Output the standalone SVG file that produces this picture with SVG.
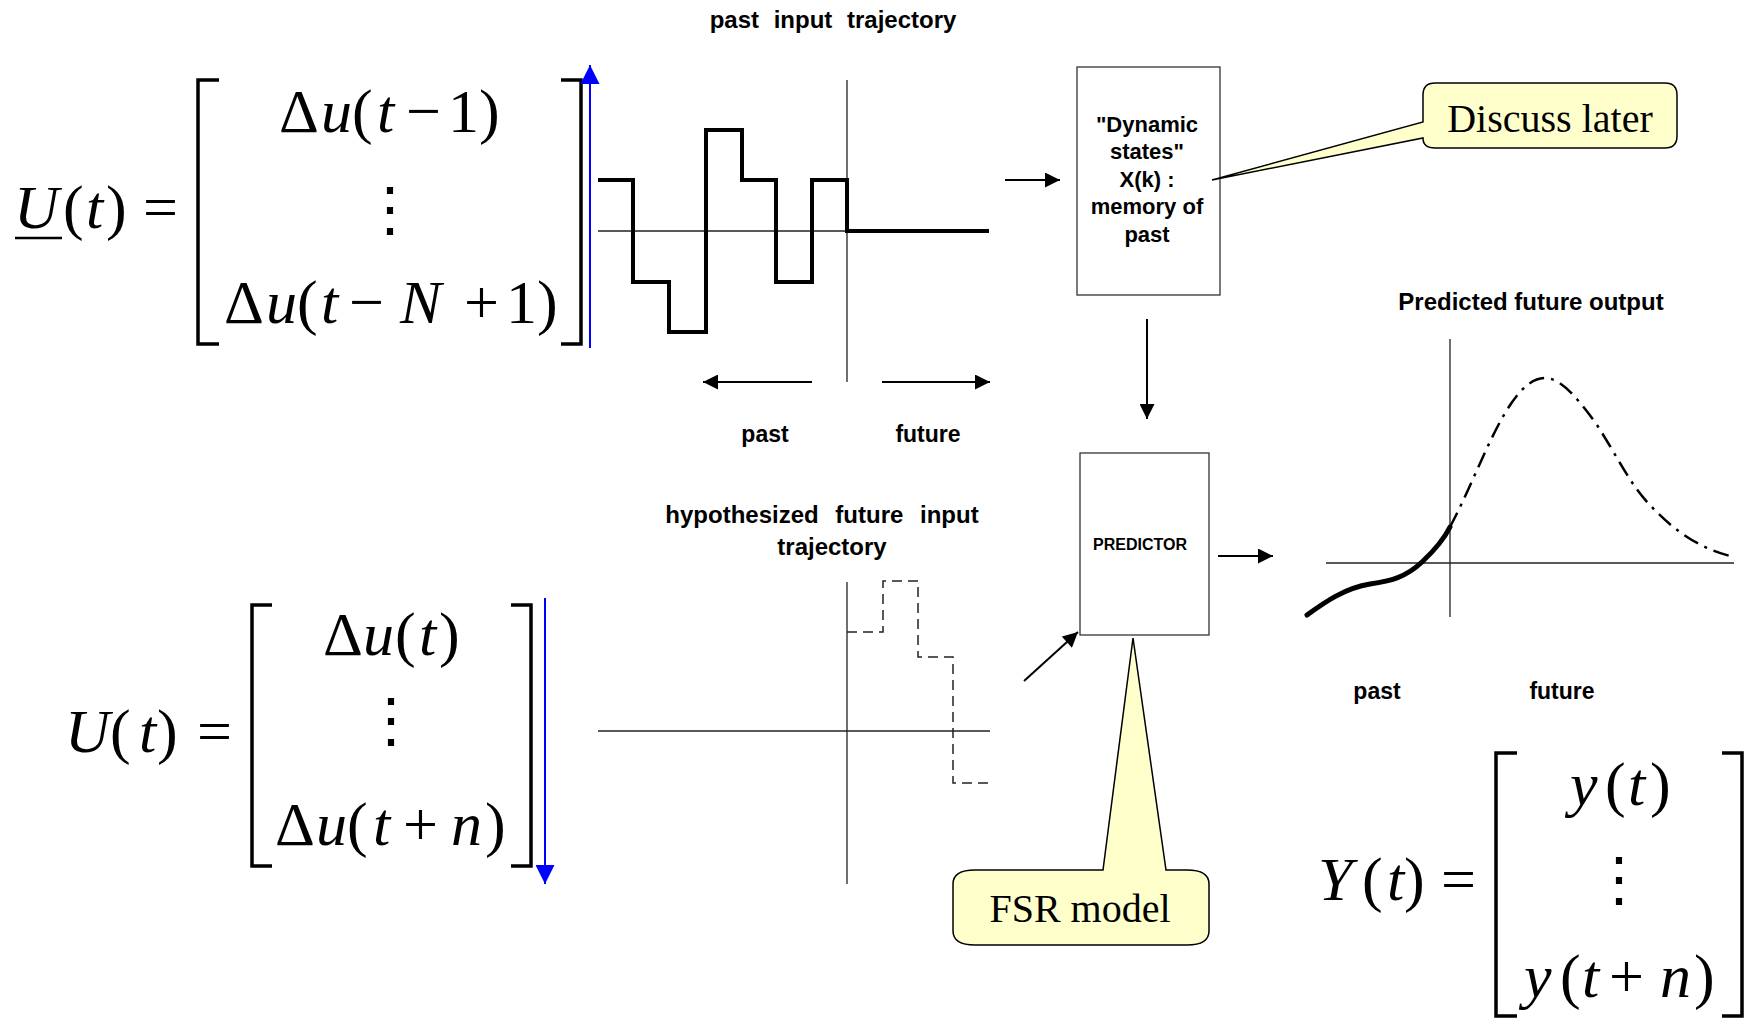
<svg xmlns="http://www.w3.org/2000/svg" width="1754" height="1021" viewBox="0 0 1754 1021">
<style>
.eq{font-family:"Liberation Serif","Times New Roman",serif;font-size:62px;fill:#000}
.it{font-style:italic}
.vd{font-family:"DejaVu Serif",serif;font-size:60px;fill:#000}
.lbl{font-family:"Liberation Sans",Arial,sans-serif;font-weight:bold;fill:#000}
.call{font-family:"Liberation Serif","Times New Roman",serif;font-size:40px;fill:#000}
.brk{fill:none;stroke:#000;stroke-width:3.5;stroke-linejoin:miter}
.thin{fill:none;stroke:#222;stroke-width:1.3}
.thick{fill:none;stroke:#000;stroke-width:4;stroke-linejoin:miter}
.dash{fill:none;stroke:#222;stroke-width:1.5;stroke-dasharray:10 6}
.box{fill:#fff;stroke:#333;stroke-width:1.3}
.bubble{fill:#FFFFCC;stroke:#000;stroke-width:1.5}
.arr{fill:none;stroke:#000;stroke-width:2}
.arrb{fill:none;stroke:#0000FF;stroke-width:2}
</style>
<defs>
<marker id="ah" viewBox="0 0 10 10" refX="10" refY="5" markerUnits="userSpaceOnUse" markerWidth="16" markerHeight="15" orient="auto"><path d="M0,0 L10,5 L0,10 z" fill="#000"/></marker>
<marker id="ahb" viewBox="0 0 10 10" refX="10" refY="5" markerUnits="userSpaceOnUse" markerWidth="20" markerHeight="19" orient="auto"><path d="M0,0 L10,5 L0,10 z" fill="#0000FF"/></marker>
</defs>
<rect width="1754" height="1021" fill="#fff"/>

<g id="eq-past-inputs">
<text class="eq" y="228"><tspan class="it" x="14">U</tspan><tspan x="63">(</tspan><tspan class="it" x="86">t</tspan><tspan x="106">)</tspan><tspan x="143">=</tspan></text>
<line x1="15" y1="238" x2="62" y2="238" stroke="#000" stroke-width="2.5"/>
<path class="brk" d="M219,80 H198 V344 H219"/>
<path class="brk" d="M561,80 H581 V344 H561"/>
<text class="eq" y="132"><tspan x="279">Δ</tspan><tspan class="it" x="321">u</tspan><tspan x="352">(</tspan><tspan class="it" x="377">t</tspan><tspan x="406">−</tspan><tspan x="448">1</tspan><tspan x="479">)</tspan></text>
<text class="vd" x="390" y="230" text-anchor="middle">⋮</text>
<text class="eq" y="323"><tspan x="224">Δ</tspan><tspan class="it" x="266">u</tspan><tspan x="297">(</tspan><tspan class="it" x="321">t</tspan><tspan x="349">−</tspan><tspan class="it" x="400">N</tspan><tspan x="464">+</tspan><tspan x="506">1</tspan><tspan x="537">)</tspan></text>
</g>

<g id="eq-future-inputs">
<text class="eq" y="752"><tspan class="it" x="65">U</tspan><tspan x="110">(</tspan><tspan class="it" x="139">t</tspan><tspan x="157">)</tspan><tspan x="197">=</tspan></text>
<path class="brk" d="M272,605 H252 V866 H272"/>
<path class="brk" d="M511,605 H531 V866 H511"/>
<text class="eq" y="655"><tspan x="323">Δ</tspan><tspan class="it" x="363">u</tspan><tspan x="395">(</tspan><tspan class="it" x="419">t</tspan><tspan x="439">)</tspan></text>
<text class="vd" x="391" y="741" text-anchor="middle">⋮</text>
<text class="eq" y="845"><tspan x="275">Δ</tspan><tspan class="it" x="316">u</tspan><tspan x="347">(</tspan><tspan class="it" x="373">t</tspan><tspan x="403">+</tspan><tspan class="it" x="451">n</tspan><tspan x="485">)</tspan></text>
</g>

<g id="eq-outputs">
<text class="eq" y="900"><tspan class="it" x="1318">Y</tspan><tspan x="1362">(</tspan><tspan class="it" x="1387">t</tspan><tspan x="1404">)</tspan><tspan x="1441">=</tspan></text>
<path class="brk" d="M1517,753 H1496 V1016 H1517"/>
<path class="brk" d="M1722,753 H1742 V1016 H1722"/>
<text class="eq" y="805"><tspan class="it" x="1570">y</tspan><tspan x="1605">(</tspan><tspan class="it" x="1628">t</tspan><tspan x="1650">)</tspan></text>
<text class="vd" x="1619" y="900" text-anchor="middle">⋮</text>
<text class="eq" y="997"><tspan class="it" x="1524">y</tspan><tspan x="1560">(</tspan><tspan class="it" x="1582">t</tspan><tspan x="1609">+</tspan><tspan class="it" x="1660">n</tspan><tspan x="1694">)</tspan></text>
</g>

<g id="chart-past-input">
<text class="lbl" x="833" y="28" font-size="24" text-anchor="middle" word-spacing="8">past input trajectory</text>
<line class="thin" x1="598" y1="231" x2="847" y2="231"/>
<line class="thin" x1="847" y1="80" x2="847" y2="382"/>
<path class="thick" d="M598,180 H633 V282 H669 V332 H706 V130 H742 V180 H776 V282 H812 V180 H847 V231 H989"/>
<text class="lbl" x="765" y="442" font-size="23" text-anchor="middle">past</text>
<text class="lbl" x="928" y="442" font-size="23" text-anchor="middle">future</text>
</g>

<g id="chart-future-input">
<text class="lbl" x="822" y="523" font-size="24" text-anchor="middle" word-spacing="10">hypothesized future input</text>
<text class="lbl" x="832" y="555" font-size="24" text-anchor="middle">trajectory</text>
<line class="thin" x1="598" y1="731" x2="990" y2="731"/>
<line class="thin" x1="847" y1="582" x2="847" y2="884"/>
<path class="dash" d="M847,632 H883 V581 H918 V657 H953 V783 H990"/>
</g>

<g id="chart-output">
<text class="lbl" x="1531" y="310" font-size="24" text-anchor="middle">Predicted future output</text>
<line class="thin" x1="1326" y1="563" x2="1734" y2="563"/>
<line class="thin" x1="1450" y1="339" x2="1450" y2="617"/>
<path d="M1307,615 C1325,602 1345,588 1370,584 C1390,581 1405,578 1422,562 C1437,548 1445,537 1450,527" fill="none" stroke="#000" stroke-width="5" stroke-linecap="round"/>
<path d="M1450,527 C1475,480 1495,420 1520,392 C1530,381 1538,378 1545,378 C1560,378 1575,395 1595,422 C1615,452 1630,485 1650,505 C1675,532 1700,548 1730,556" fill="none" stroke="#000" stroke-width="2.5" stroke-dasharray="16 7 3 7"/>
<text class="lbl" x="1377" y="699" font-size="23" text-anchor="middle">past</text>
<text class="lbl" x="1562" y="699" font-size="23" text-anchor="middle">future</text>
</g>

<g id="box-dynamic-states">
<rect class="box" x="1077" y="67" width="143" height="228"/>
<text class="lbl" font-size="22" text-anchor="middle"><tspan x="1147" y="132">"Dynamic</tspan><tspan x="1147" y="159">states"</tspan><tspan x="1147" y="187">X(k) :</tspan><tspan x="1147" y="214">memory of</tspan><tspan x="1147" y="242">past</tspan></text>
</g>

<g id="box-predictor">
<rect class="box" x="1080" y="453" width="129" height="182"/>
<text class="lbl" x="1140" y="550" font-size="16" text-anchor="middle">PREDICTOR</text>
</g>

<g id="callout-discuss-later">
<path class="bubble" d="M1435,83 H1665 Q1677,83 1677,95 V136 Q1677,148 1665,148 H1435 Q1423,148 1423,138 L1212,180 L1423,122 V95 Q1423,83 1435,83 Z"/>
<text class="call" x="1550" y="132" text-anchor="middle">Discuss later</text>
</g>

<g id="callout-fsr-model">
<path class="bubble" d="M975,870 H1103 L1133,638 L1166,870 H1187 Q1209,870 1209,884 V931 Q1209,945 1187,945 H975 Q953,945 953,931 V884 Q953,870 975,870 Z"/>
<text class="call" x="1080" y="922" text-anchor="middle">FSR model</text>
</g>

<g id="connectors">
<line class="arrb" x1="590" y1="348" x2="590" y2="65" marker-end="url(#ahb)"/>
<line class="arrb" x1="545" y1="598" x2="545" y2="884" marker-end="url(#ahb)"/>
<line class="arr" x1="812" y1="382" x2="703" y2="382" marker-end="url(#ah)"/>
<line class="arr" x1="882" y1="382" x2="990" y2="382" marker-end="url(#ah)"/>
<line class="arr" x1="1005" y1="180" x2="1060" y2="180" marker-end="url(#ah)"/>
<line class="arr" x1="1147" y1="319" x2="1147" y2="419" marker-end="url(#ah)"/>
<line class="arr" x1="1218" y1="556" x2="1273" y2="556" marker-end="url(#ah)"/>
<line class="arr" x1="1024" y1="681" x2="1078" y2="632" marker-end="url(#ah)"/>
</g>
</svg>
